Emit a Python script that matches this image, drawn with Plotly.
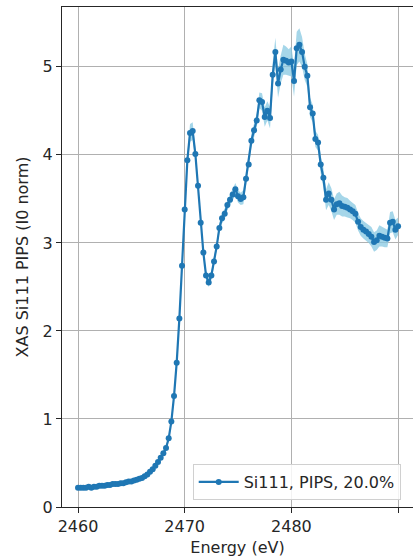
import plotly.graph_objects as go

energy = [
    2460.00, 2460.25, 2460.50, 2460.75, 2461.00, 2461.25, 2461.50, 2461.75,
    2462.00, 2462.25, 2462.50, 2462.75, 2463.00, 2463.25, 2463.50, 2463.75,
    2464.00, 2464.25, 2464.50, 2464.75, 2465.00, 2465.25, 2465.50, 2465.75,
    2466.00, 2466.25, 2466.50, 2466.75, 2467.00, 2467.25, 2467.50, 2467.75,
    2468.00, 2468.25, 2468.50, 2468.75, 2469.00, 2469.25, 2469.50, 2469.75,
    2470.00, 2470.25, 2470.50, 2470.75, 2471.00, 2471.25, 2471.50, 2471.75,
    2472.00, 2472.25, 2472.50, 2472.75, 2473.00, 2473.25, 2473.50, 2473.75,
    2474.00, 2474.25, 2474.50, 2474.75, 2475.00, 2475.25, 2475.50, 2475.75,
    2476.00, 2476.25, 2476.50, 2476.75, 2477.00, 2477.25, 2477.50, 2477.75,
    2478.00, 2478.25, 2478.50, 2478.75, 2479.00, 2479.25, 2479.50, 2479.75,
    2480.00, 2480.25, 2480.50, 2480.75, 2481.00, 2481.25, 2481.50, 2481.75,
    2482.00, 2482.25, 2482.50, 2482.75, 2483.00, 2483.25, 2483.50, 2483.75,
    2484.00, 2484.25, 2484.50, 2484.75, 2485.00, 2485.25, 2485.50, 2485.75,
    2486.00, 2486.25, 2486.50, 2486.75, 2487.00, 2487.25, 2487.50, 2487.75,
    2488.00, 2488.25, 2488.50, 2488.75, 2489.00, 2489.25, 2489.50, 2489.75,
    2490.00,
]

intensity = [
    0.22, 0.22, 0.22, 0.22, 0.23, 0.22, 0.23, 0.23,
    0.24, 0.24, 0.24, 0.25, 0.25, 0.26, 0.26, 0.26,
    0.27, 0.27, 0.28, 0.29, 0.29, 0.30, 0.31, 0.32,
    0.33, 0.35, 0.37, 0.40, 0.43, 0.47, 0.51, 0.56,
    0.61, 0.67, 0.78, 0.97, 1.26, 1.64, 2.14, 2.74,
    3.38, 3.94, 4.25, 4.27, 4.01, 3.65, 3.23, 2.89,
    2.63, 2.55, 2.63, 2.79, 2.96, 3.17, 3.28, 3.33,
    3.43, 3.49, 3.55, 3.61, 3.53, 3.50, 3.52, 3.73,
    3.89, 4.16, 4.28, 4.39, 4.62, 4.60, 4.43, 4.50,
    4.42, 4.91, 5.17, 4.81, 4.97, 5.08, 5.07, 5.05,
    5.06, 4.84, 5.21, 5.25, 5.17, 5.00, 4.90, 4.54,
    4.47, 4.18, 4.14, 3.89, 3.74, 3.49, 3.56, 3.49,
    3.38, 3.44, 3.45, 3.42, 3.41, 3.40, 3.38, 3.36,
    3.33, 3.24, 3.18, 3.15, 3.13, 3.10, 3.07, 3.01,
    3.03, 3.08, 3.07, 3.06, 3.05, 3.23, 3.24, 3.15,
    3.19,
]

uncertainty = [
    0.01, 0.01, 0.01, 0.01, 0.01, 0.01, 0.01, 0.01,
    0.01, 0.01, 0.01, 0.01, 0.01, 0.01, 0.01, 0.01,
    0.01, 0.01, 0.01, 0.01, 0.01, 0.01, 0.01, 0.01,
    0.01, 0.01, 0.01, 0.01, 0.01, 0.01, 0.01, 0.01,
    0.02, 0.02, 0.03, 0.03, 0.03, 0.04, 0.04, 0.05,
    0.05, 0.08, 0.10, 0.10, 0.07, 0.05, 0.04, 0.04,
    0.05, 0.05, 0.05, 0.05, 0.05, 0.06, 0.06, 0.06,
    0.06, 0.06, 0.07, 0.07, 0.07, 0.07, 0.08, 0.07,
    0.07, 0.08, 0.08, 0.08, 0.09, 0.10, 0.11, 0.11,
    0.12, 0.14, 0.16, 0.16, 0.16, 0.17, 0.16, 0.15,
    0.17, 0.18, 0.19, 0.19, 0.17, 0.15, 0.13, 0.11,
    0.10, 0.09, 0.09, 0.10, 0.11, 0.12, 0.13, 0.13,
    0.12, 0.12, 0.13, 0.12, 0.11, 0.11, 0.10, 0.10,
    0.10, 0.10, 0.10, 0.10, 0.10, 0.10, 0.11, 0.11,
    0.11, 0.12, 0.11, 0.11, 0.10, 0.12, 0.12, 0.11,
    0.10,
]

series_label = "Si111, PIPS, 20.0%"
x_label = "Energy (eV)"
y_label = "XAS Si111 PIPS (I0 norm)"
x_ticks = [2460, 2470, 2480, 2490]
y_ticks = [0, 1, 2, 3, 4, 5]

lower = [v - e for v, e in zip(intensity, uncertainty)]
upper = [v + e for v, e in zip(intensity, uncertainty)]

BLUE = "#1f77b4"
BAND = "rgba(135,200,225,0.75)"
FONT = "DejaVu Sans"

fig = go.Figure()
fig.add_trace(go.Scatter(x=energy, y=lower, mode="lines", line=dict(width=0, color=BAND),
                         showlegend=False, hoverinfo="skip"))
fig.add_trace(go.Scatter(x=energy, y=upper, mode="lines", line=dict(width=0, color=BAND),
                         fill="tonexty", fillcolor=BAND, showlegend=False, hoverinfo="skip"))
fig.add_trace(go.Scatter(x=energy, y=intensity, mode="lines+markers", name=series_label,
                         line=dict(color=BLUE, width=2.2),
                         marker=dict(color=BLUE, size=6)))

fig.update_layout(
    width=413, height=560,
    margin=dict(l=62, r=0, t=7, b=53),
    paper_bgcolor="white", plot_bgcolor="white",
    font=dict(family=FONT, size=16, color="#262626"),
    showlegend=True,
    legend=dict(x=0.965, y=0.014, xanchor="right", yanchor="bottom",
                bgcolor="rgba(255,255,255,0.85)", bordercolor="#d0d0d0", borderwidth=1,
                font=dict(family=FONT, size=16, color="#262626"),
                itemwidth=40),
)
fig.update_xaxes(range=[2458.5, 2491.4], tickvals=x_ticks, ticktext=[str(t) for t in x_ticks],
                 showgrid=True, gridcolor="#b0b0b0", gridwidth=1,
                 showline=True, linecolor="#262626", linewidth=1, mirror=True,
                 ticks="outside", ticklen=5, tickcolor="#262626",
                 zeroline=False,
                 title=dict(text=x_label, standoff=6,
                            font=dict(family=FONT, size=16, color="#262626")))
fig.update_yaxes(range=[0, 5.68], tickvals=y_ticks, ticktext=[str(t) for t in y_ticks],
                 showgrid=True, gridcolor="#b0b0b0", gridwidth=1,
                 showline=True, linecolor="#262626", linewidth=1, mirror=False,
                 ticks="outside", ticklen=5, tickcolor="#262626",
                 zeroline=False,
                 title=dict(text=y_label, standoff=10,
                            font=dict(family=FONT, size=16, color="#262626")))

fig.write_html("out.html")
